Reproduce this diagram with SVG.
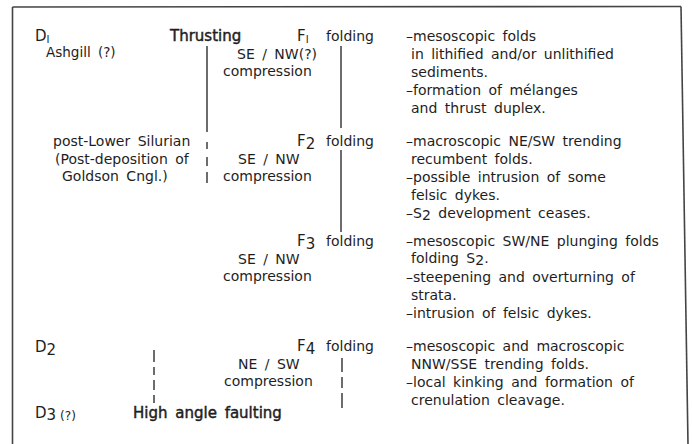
<svg xmlns="http://www.w3.org/2000/svg" width="692" height="444" viewBox="0 0 692 444">
  <style>
    text { font-family: "DejaVu Sans", "Liberation Sans", sans-serif; font-size: 14px; fill: #1e1e1e; word-spacing: 3px; }
    .hd { font-size: 15px; }
    .heavy { stroke: #1e1e1e; stroke-width: 0.45px; }
    .sm { font-size: 13.5px; }
    .q { font-size: 12px; }
    .ln { stroke: #2e2e2e; stroke-width: 1.4; fill: none; }
    .frame { stroke: #444; stroke-width: 1.6; fill: none; }
  </style>
  <rect width="692" height="444" fill="#fff"/>

  <!-- outer frame (open at the bottom) -->
  <g id="frame" class="frame">
    <line x1="12.5" y1="7" x2="681" y2="6.5"/>
    <line x1="12.5" y1="7" x2="12.5" y2="444"/>
    <line x1="681" y1="6.5" x2="688" y2="444"/>
  </g>

  <!-- deformation phases -->
  <g id="d1">
    <text x="35" y="41" class="hd">D<tspan font-size="10" dy="2">I</tspan></text>
    <text x="46" y="57" class="sm">Ashgill (?)</text>
  </g>
  <g id="d2">
    <text x="35" y="352" class="hd">D<tspan dy="3">2</tspan></text>
  </g>
  <g id="d3">
    <text x="35" y="418" class="hd">D<tspan dy="2">3</tspan><tspan class="q" dx="4">(?)</tspan></text>
  </g>

  <!-- thrusting and its age -->
  <g id="thrusting">
    <text x="170" y="41" class="hd heavy">Thrusting</text>
  </g>
  <g id="thrust-age">
    <text x="53" y="146">post-Lower Silurian</text>
    <text x="55" y="164">(Post-deposition of</text>
    <text x="62" y="181">Goldson Cngl.)</text>
  </g>

  <!-- faulting -->
  <g id="faulting">
    <text x="133" y="418" class="hd heavy">High angle faulting</text>
  </g>

  <!-- folding events -->
  <g id="f1">
    <text x="297" y="41" class="hd">F<tspan font-size="10" dy="2">I</tspan></text>
    <text x="326" y="41">folding</text>
    <text x="237" y="59">SE / NW(?)</text>
    <text x="223" y="76">compression</text>
  </g>
  <g id="f2">
    <text x="297" y="146" class="hd">F<tspan dy="3">2</tspan></text>
    <text x="326" y="146">folding</text>
    <text x="238" y="164">SE / NW</text>
    <text x="223" y="181">compression</text>
  </g>
  <g id="f3">
    <text x="297" y="246" class="hd">F<tspan dy="3">3</tspan></text>
    <text x="326" y="246">folding</text>
    <text x="238" y="264">SE / NW</text>
    <text x="223" y="281">compression</text>
  </g>
  <g id="f4">
    <text x="297" y="351" class="hd">F<tspan dy="3">4</tspan></text>
    <text x="326" y="351">folding</text>
    <text x="238" y="369">NE / SW</text>
    <text x="224" y="386">compression</text>
  </g>

  <!-- structural descriptions -->
  <g id="f1-notes">
    <text x="406" y="41">–mesoscopic folds</text>
    <text x="411" y="59">in lithified and/or unlithified</text>
    <text x="411" y="77">sediments.</text>
    <text x="406" y="95">–formation of mélanges</text>
    <text x="411" y="113">and thrust duplex.</text>
  </g>
  <g id="f2-notes">
    <text x="406" y="146">–macroscopic NE/SW trending</text>
    <text x="411" y="164">recumbent folds.</text>
    <text x="406" y="182">–possible intrusion of some</text>
    <text x="411" y="200">felsic dykes.</text>
    <text x="406" y="218">–S<tspan dy="2">2</tspan><tspan dy="-2"> development ceases.</tspan></text>
  </g>
  <g id="f3-notes">
    <text x="406" y="246">–mesoscopic SW/NE plunging folds</text>
    <text x="411" y="263">folding S<tspan dy="2">2</tspan><tspan dy="-2">.</tspan></text>
    <text x="406" y="282">–steepening and overturning of</text>
    <text x="411" y="300">strata.</text>
    <text x="406" y="318">–intrusion of felsic dykes.</text>
  </g>
  <g id="f4-notes">
    <text x="406" y="351">–mesoscopic and macroscopic</text>
    <text x="411" y="369">NNW/SSE trending folds.</text>
    <text x="406" y="387">–local kinking and formation of</text>
    <text x="411" y="405">crenulation cleavage.</text>
  </g>

  <!-- duration bars -->
  <g id="connectors" class="ln">
    <!-- thrusting: solid, then dashed -->
    <line x1="207" y1="46" x2="207" y2="132"/>
    <line x1="207" y1="142" x2="207" y2="149"/>
    <line x1="207" y1="157" x2="207" y2="166"/>
    <line x1="207" y1="172" x2="207" y2="183"/>
    <!-- F1 to F2 -->
    <line x1="341" y1="46" x2="341" y2="128"/>
    <!-- F2 to F3 -->
    <line x1="341" y1="150" x2="341" y2="232"/>
    <!-- F4, dashed -->
    <line x1="342" y1="358" x2="342" y2="372"/>
    <line x1="342" y1="377" x2="342" y2="388"/>
    <line x1="342" y1="393" x2="342" y2="408"/>
    <!-- D2 to faulting, dashed -->
    <line x1="154" y1="350" x2="154" y2="362"/>
    <line x1="154" y1="367" x2="154" y2="375"/>
    <line x1="154" y1="380" x2="154" y2="390"/>
    <line x1="154" y1="395" x2="154" y2="403"/>
  </g>
</svg>
